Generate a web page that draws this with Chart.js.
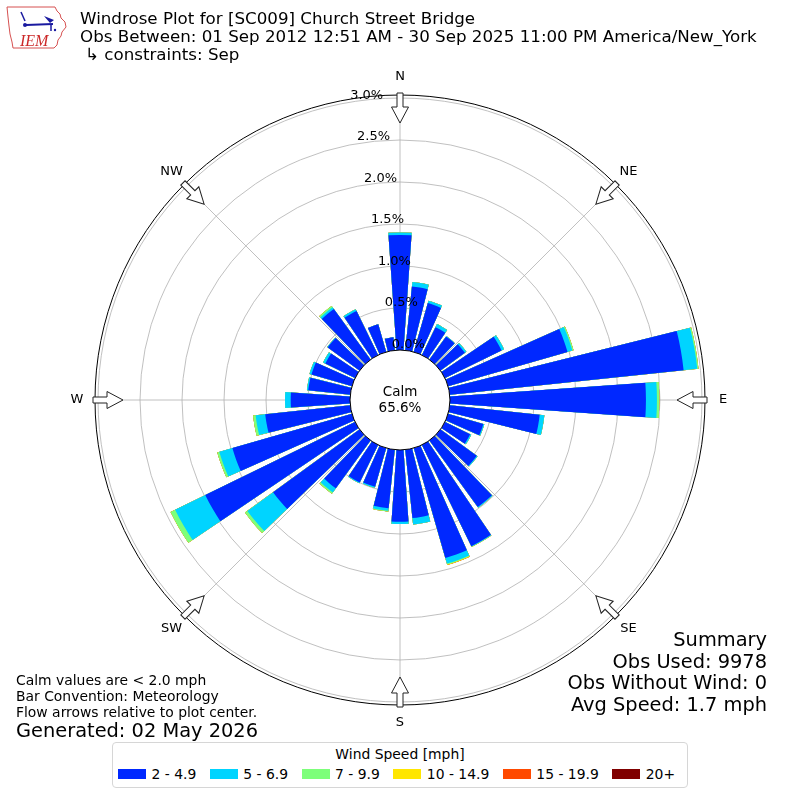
<!DOCTYPE html>
<html>
<head>
<meta charset="utf-8">
<title>Windrose Plot for [SC009] Church Street Bridge</title>
<script src="https://cdn.jsdelivr.net/npm/chart.js"></script>
<style>
  body { margin: 0; background: #fff; font-family: "DejaVu Sans", sans-serif; color: #000; }
  #wrap { position: relative; width: 800px; height: 800px; overflow: hidden; background: #fff; }
  #rose { position: absolute; left: 0; top: 0; }
  .logo { position: absolute; left: 4px; top: 2px; }
  .title { position: absolute; left: 80px; top: 9px; font-size: 16.7px; line-height: 18px; white-space: nowrap; }
  .title .sub { padding-left: 5px; }
  .notes { position: absolute; left: 16px; top: 672px; font-size: 13.9px; line-height: 16px; white-space: nowrap; }
  .notes .gen { font-size: 19.4px; line-height: 22px; }
  .summary { position: absolute; right: 33px; top: 629px; font-size: 19.4px; line-height: 21.7px; text-align: right; white-space: nowrap; }
  .legend { position: absolute; left: 112px; top: 742px; width: 574px; height: 44px; border: 1px solid #d6d6d6; border-radius: 4px; background: #fff; }
  .legend .lt { text-align: center; font-size: 13.9px; line-height: 16px; margin-top: 3px; }
  .legend .items { display: flex; gap: 13.5px; padding-left: 5px; margin-top: 4px; font-size: 13.9px; line-height: 16px; align-items: center; white-space: nowrap; }
  .legend .item { display: flex; align-items: center; gap: 5.5px; }
  .legend .sw { width: 28px; height: 10px; }
</style>
</head>
<body>
<div id="wrap">
  <canvas id="rose" width="800" height="800"></canvas>

  <svg class="logo" width="66" height="50" viewBox="0 0 66 50">
    <path d="M3 5 L51 5 L53 9 L56 12 L57 16 L61 20 L62 25 L58 30 L57 34 L54 38 L53 43 L50 46 L9 46 L8 40 L6 32 L5 24 L4 15 Z"
          fill="none" stroke="#d65050" stroke-width="1"/>
    <path d="M17 10 L21 19" stroke="#1a1aa0" stroke-width="1.5"/>
    <circle cx="21" cy="23" r="2" fill="#1a1aa0"/>
    <path d="M22 23 L49 22" stroke="#1a1aa0" stroke-width="2"/>
    <path d="M40 14 L50 18 L46 21 Z" fill="#1a1aa0"/>
    <path d="M47 22 L47 29" stroke="#1a1aa0" stroke-width="1.5"/>
    <circle cx="51" cy="28" r="1.2" fill="#1a1aa0"/>
    <text x="16" y="44" font-family="Liberation Serif, serif" font-style="italic" font-size="16" fill="#cc2a2a">IEM</text>
  </svg>

  <div class="title">
    <div>Windrose Plot for [SC009] Church Street Bridge</div>
    <div>Obs Between: 01 Sep 2012 12:51 AM - 30 Sep 2025 11:00 PM America/New_York</div>
    <div class="sub">↳ constraints: Sep</div>
  </div>

  <div class="notes">
    <div>Calm values are &lt; 2.0 mph</div>
    <div>Bar Convention: Meteorology</div>
    <div>Flow arrows relative to plot center.</div>
    <div class="gen">Generated: 02 May 2026</div>
  </div>

  <div class="summary">
    <div>Summary</div>
    <div>Obs Used: 9978</div>
    <div>Obs Without Wind: 0</div>
    <div>Avg Speed: 1.7 mph</div>
  </div>

  <div class="legend">
    <div class="lt">Wind Speed [mph]</div>
    <div class="items" id="legendItems"></div>
  </div>
</div>

<script>
// wind direction bins (degrees, meteorological convention)
const directions = [0, 10, 20, 30, 40, 50, 60, 70, 80, 90, 100, 110,
                    120, 130, 140, 150, 160, 170, 180, 190, 200, 210, 220, 230,
                    240, 250, 260, 270, 280, 290, 300, 310, 320, 330, 340, 350];

const speedBins = ['2 - 4.9', '5 - 6.9', '7 - 9.9', '10 - 14.9', '15 - 19.9', '20+'];
const binColors = ['#0028ff', '#00d4ff', '#7dff7a', '#ffe600', '#ff4a00', '#800000'];

// frequency [%] per direction for each speed bin
const speed2to5 = [1.37, 0.765, 0.605, 0.37, 0.34, 0.36, 0.75, 1.48, 2.80, 2.333, 1.077, 0.437,
                   0.334, 0.534, 0.98, 1.341, 1.363, 0.818, 0.854, 0.702, 0.48, 0.498, 0.705, 1.273,
                   1.985, 1.481, 1.018, 0.706, 0.503, 0.501, 0.394, 0.468, 0.745, 0.585, 0.344, 0.155];
const speed5to7 = [0.03, 0.054, 0.03, 0.04, 0.005, 0.022, 0.033, 0.06, 0.163, 0.131, 0.056, 0.012,
                   0.015, 0.012, 0.01, 0.005, 0.068, 0.077, 0.027, 0.03, 0.013, 0.01, 0.06, 0.378,
                   0.399, 0.162, 0.115, 0.068, 0.016, 0.025, 0.03, 0.008, 0.025, 0.022, 0, 0];
const speed7to10 = [0, 0, 0, 0, 0, 0, 0, 0.014, 0.015, 0.028, 0, 0,
                    0, 0, 0, 0.005, 0.01, 0, 0, 0.01, 0, 0, 0.02, 0.035,
                    0.06, 0.025, 0.03, 0, 0, 0, 0, 0, 0.02, 0, 0, 0];
const speed10to15 = [0, 0, 0, 0, 0, 0, 0, 0, 0, 0, 0, 0,
                     0, 0, 0, 0, 0.006, 0, 0, 0, 0, 0, 0, 0,
                     0, 0, 0, 0, 0, 0, 0, 0, 0, 0, 0, 0];
const speed15to20 = [0, 0, 0, 0, 0, 0, 0, 0, 0, 0, 0, 0,
                     0, 0, 0, 0, 0, 0, 0, 0, 0, 0, 0, 0,
                     0, 0, 0, 0, 0, 0, 0, 0, 0, 0, 0, 0];
const speed20up = [0, 0, 0, 0, 0, 0, 0, 0, 0, 0, 0, 0,
                   0, 0, 0, 0, 0, 0, 0, 0, 0, 0, 0, 0,
                   0, 0, 0, 0, 0, 0, 0, 0, 0, 0, 0, 0];

const tickValues = [0, 0.5, 1.0, 1.5, 2.0, 2.5, 3.0];
const tickLabels = ['0.0%', '0.5%', '1.0%', '1.5%', '2.0%', '2.5%', '3.0%'];
const compassPoints = ['N', 'NE', 'E', 'SE', 'S', 'SW', 'W', 'NW'];
const calmPercent = 65.6;

// bar geometry: 8 degree wedge, 2 degree gap per 10 degree bin
const BAR_DEG = 8;
const GAP_DEG = 2;
// radial range, negative min leaves room for the calm circle
const R_MIN = -0.595;
const R_MAX = 3.036;

// stacked bins -> cumulative rings, one bar + one gap slot per direction
const bins = [speed2to5, speed5to7, speed7to10, speed10to15, speed15to20, speed20up];
let running = directions.map(() => 0);
const datasets = bins.map((vals, k) => {
    running = running.map((s, i) => s + vals[i]);
    return {
        label: speedBins[k],
        data: running.flatMap(v => [v, 0]),
        backgroundColor: binColors[k],
        borderWidth: 0,
        angle: ctx => (ctx.dataIndex % 2 ? GAP_DEG : BAR_DEG)
    };
});
const slotLabels = directions.flatMap(d => [String(d), '']);

function polarPoint(scale, deg, rho) {
    const a = (deg - 90) * Math.PI / 180;
    return [scale.xCenter + rho * Math.cos(a), scale.yCenter + rho * Math.sin(a)];
}

const roseFrame = {
    id: 'roseFrame',
    beforeDatasetsDraw(chart) {
        const s = chart.scales.r;
        const ctx = chart.ctx;
        const r0 = s.getDistanceFromCenterForValue(0);
        ctx.save();
        ctx.strokeStyle = '#b0b0b0';
        ctx.lineWidth = 0.8;
        compassPoints.forEach((p, i) => {
            const a = polarPoint(s, i * 45, r0);
            const b = polarPoint(s, i * 45, s.drawingArea);
            ctx.beginPath();
            ctx.moveTo(a[0], a[1]);
            ctx.lineTo(b[0], b[1]);
            ctx.stroke();
        });
        ctx.restore();
    },
    afterDatasetsDraw(chart) {
        const s = chart.scales.r;
        const ctx = chart.ctx;
        const R = s.drawingArea;
        const r0 = s.getDistanceFromCenterForValue(0);
        ctx.save();

        // outer frame
        ctx.beginPath();
        ctx.arc(s.xCenter, s.yCenter, R, 0, Math.PI * 2);
        ctx.strokeStyle = '#000';
        ctx.lineWidth = 1;
        ctx.stroke();

        // calm circle
        ctx.beginPath();
        ctx.arc(s.xCenter, s.yCenter, r0, 0, Math.PI * 2);
        ctx.fillStyle = '#fff';
        ctx.fill();
        ctx.stroke();
        ctx.fillStyle = '#000';
        ctx.font = '13.5px "DejaVu Sans"';
        ctx.textAlign = 'center';
        ctx.textBaseline = 'middle';
        ctx.fillText('Calm', s.xCenter, s.yCenter - 8);
        ctx.fillText(calmPercent.toFixed(1) + '%', s.xCenter, s.yCenter + 8);

        // radial tick labels
        ctx.font = '13px "DejaVu Sans"';
        ctx.textAlign = 'left';
        ctx.textBaseline = 'bottom';
        tickValues.forEach((v, i) => {
            const p = polarPoint(s, -9.5, s.getDistanceFromCenterForValue(v));
            ctx.fillText(tickLabels[i], p[0], p[1]);
        });

        // compass labels and flow arrows
        ctx.textAlign = 'center';
        ctx.textBaseline = 'middle';
        compassPoints.forEach((name, i) => {
            const deg = i * 45;
            const p = polarPoint(s, deg, R + 18);
            ctx.fillStyle = '#000';
            ctx.fillText(name, p[0], p[1]);

            ctx.save();
            ctx.translate(s.xCenter, s.yCenter);
            ctx.rotate(deg * Math.PI / 180);
            ctx.beginPath();
            ctx.moveTo(-3, -(R + 2));
            ctx.lineTo(-3, -(R - 12));
            ctx.lineTo(-8.5, -(R - 12));
            ctx.lineTo(0, -(R - 28));
            ctx.lineTo(8.5, -(R - 12));
            ctx.lineTo(3, -(R - 12));
            ctx.lineTo(3, -(R + 2));
            ctx.closePath();
            ctx.fillStyle = '#fff';
            ctx.fill();
            ctx.strokeStyle = '#222';
            ctx.lineWidth = 1;
            ctx.stroke();
            ctx.restore();
        });
        ctx.restore();
    }
};

new Chart(document.getElementById('rose').getContext('2d'), {
    type: 'polarArea',
    data: { labels: slotLabels, datasets: datasets },
    options: {
        responsive: false,
        animation: false,
        events: [],
        layout: { padding: 95 },
        plugins: {
            legend: { display: false },
            tooltip: { enabled: false }
        },
        scales: {
            r: {
                min: R_MIN,
                max: R_MAX,
                startAngle: -BAR_DEG / 2,
                ticks: { display: false, stepSize: 0.5 },
                afterBuildTicks: scale => {
                    scale.ticks = tickValues.map(v => ({ value: v }));
                },
                grid: { circular: true, color: '#b0b0b0', lineWidth: 0.8 },
                angleLines: { display: false },
                pointLabels: { display: false }
            }
        }
    },
    plugins: [roseFrame]
});

// legend entries
const legendBox = document.getElementById('legendItems');
speedBins.forEach((name, k) => {
    const item = document.createElement('div');
    item.className = 'item';
    const sw = document.createElement('span');
    sw.className = 'sw';
    sw.style.background = binColors[k];
    const tx = document.createElement('span');
    tx.textContent = name;
    item.appendChild(sw);
    item.appendChild(tx);
    legendBox.appendChild(item);
});
</script>
</body>
</html>
